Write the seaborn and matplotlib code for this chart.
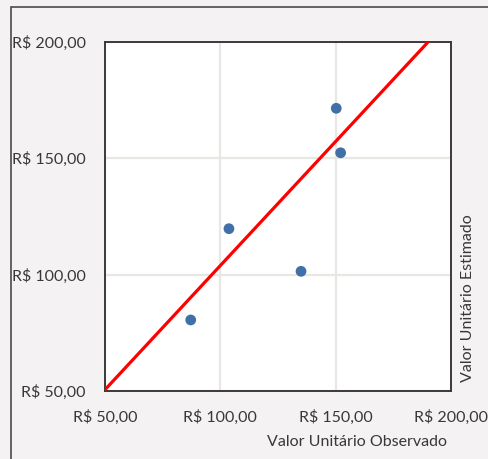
import matplotlib
matplotlib.use("Agg")
import matplotlib.pyplot as plt
from matplotlib.patches import Rectangle
from matplotlib.ticker import FuncFormatter
import seaborn as sns
import pandas as pd

# Observed vs. estimated unit values (R$)
observado = [87.1, 103.7, 135.0, 150.3, 152.2]
estimado = [80.5, 119.7, 101.4, 171.4, 152.3]

# Fitted trend line endpoints
reta_x = [50.0, 190.3]
reta_y = [50.7, 200.0]

ticks = [50, 100, 150, 200]

sns.set_theme(style="white")
plt.rcParams["font.family"] = ["Lato", "DejaVu Sans"]

bg = "#f4f2f3"
txt = "#383838"

fig = plt.figure(figsize=(4.88, 4.59), dpi=100, facecolor=bg)
ax = fig.add_axes([105.3 / 488, 1 - 391 / 459, 345.4 / 488, 349.3 / 459])
ax.set_facecolor("white")

pontos = pd.DataFrame({"obs": observado, "est": estimado})
reta = pd.DataFrame({"x": reta_x, "y": reta_y})

ax.grid(True, color="#e9e7e3", linewidth=1.6)
ax.set_axisbelow(True)

sns.lineplot(data=reta, x="x", y="y", ax=ax, color="#ff0000",
             linewidth=2.3, zorder=3, clip_on=True)
sns.scatterplot(data=pontos, x="obs", y="est", ax=ax, color="#4170a8",
                s=60, edgecolor="none", zorder=4)

ax.set_xlim(50, 200)
ax.set_ylim(50, 200)
ax.set_xticks(ticks)
ax.set_yticks(ticks)

fmt = FuncFormatter(lambda v, p: f"R$ {v:.2f}".replace(".", ","))
ax.xaxis.set_major_formatter(fmt)
ax.yaxis.set_major_formatter(fmt)
ax.tick_params(axis="both", length=0, labelsize=11.5, colors=txt)
ax.tick_params(axis="x", pad=13.5)
ax.tick_params(axis="y", pad=14)

for s in ax.spines.values():
    s.set_color("#3a3a3a")
    s.set_linewidth(1.4)

ax.set_xlabel("")
ax.set_ylabel("")
fig.text(447 / 488, 1 - 441.5 / 459, "Valor Unitário Observado",
         ha="right", va="center", fontsize=11.5, color=txt)
fig.text(468 / 488, 1 - 382 / 459, "Valor Unitário Estimado",
         ha="center", va="bottom", rotation=90, fontsize=11.5, color=txt)

# Outer chart frame (left and top edges visible)
fig.patches.append(Rectangle((11 / 488, -0.1), 1.2, 1 - 7.3 / 459 + 0.1,
                             transform=fig.transFigure, fill=False,
                             edgecolor="#4a4a4a", linewidth=1.2))

fig.savefig("out.png", dpi=100, facecolor=bg)
